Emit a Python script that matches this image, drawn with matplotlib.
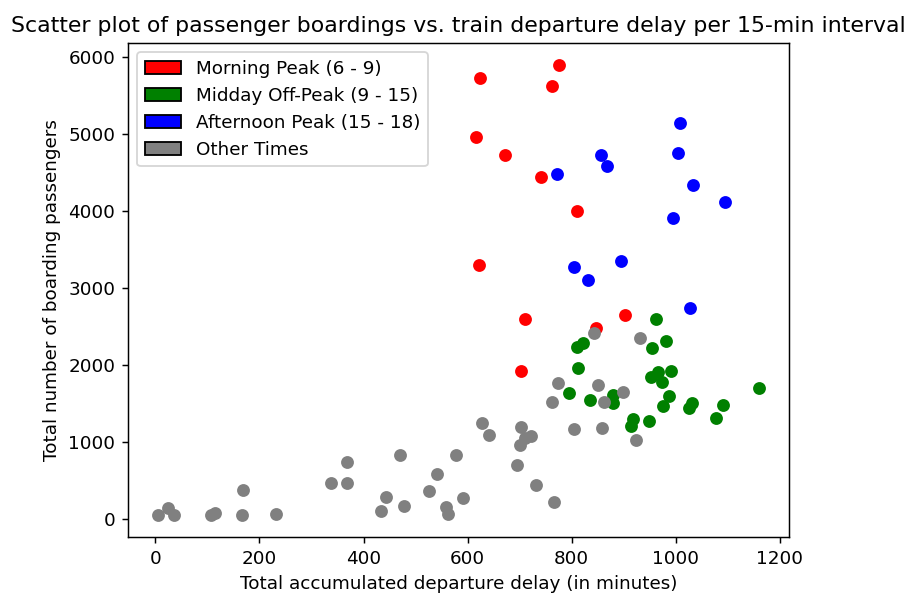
import matplotlib
matplotlib.use("Agg")
import matplotlib.pyplot as plt
from matplotlib.patches import Patch

# delay (minutes) and boardings per 15-min interval, grouped by time of day
morning_delay = [624, 776, 762, 616, 672, 742, 810, 621, 710, 902, 847, 702]
morning_board = [5716, 5885, 5622, 4959, 4725, 4440, 3998, 3300, 2595, 2650, 2478, 1915]

midday_delay = [962, 982, 954, 821, 811, 813, 991, 966, 952, 973, 1160, 795,
                879, 880, 835, 987, 975, 1031, 1026, 1090, 1077, 917, 915, 948]
midday_board = [2591, 2313, 2218, 2279, 2227, 1954, 1923, 1910, 1837, 1772, 1694, 1637,
                1611, 1503, 1546, 1594, 1460, 1507, 1438, 1473, 1312, 1299, 1204, 1265]

afternoon_delay = [1009, 1004, 856, 867, 771, 1034, 1094, 994, 894, 804, 831, 1028]
afternoon_board = [5141, 4751, 4721, 4586, 4478, 4339, 4115, 3903, 3348, 3274, 3105, 2734]

other_delay = [843, 931, 773, 850, 899, 863, 762, 627, 642, 702, 721, 710, 700, 804,
               858, 923, 577, 694, 731, 591, 766,
               5, 25, 36, 106, 115, 169, 167, 231, 337, 369, 369, 470, 444, 433,
               477, 542, 526, 558, 563]
other_board = [2409, 2348, 1759, 1741, 1650, 1520, 1512, 1239, 1091, 1187, 1074, 1052, 954, 1165,
               1182, 1022, 824, 694, 438, 269, 226,
               57, 143, 57, 57, 74, 382, 57, 65, 468, 733, 468, 824, 282, 100,
               174, 577, 360, 152, 65]

labels = ["Morning Peak (6 - 9)", "Midday Off-Peak (9 - 15)",
          "Afternoon Peak (15 - 18)", "Other Times"]
colors = ["red", "green", "blue", "gray"]

dpi = 132
fig = plt.figure(figsize=(911/dpi, 594/dpi), dpi=dpi)
ax = fig.add_subplot(111)
fig.subplots_adjust(left=128/911, right=789/911, top=1-43/594, bottom=1-537/594)

ax.scatter(morning_delay, morning_board, c=colors[0])
ax.scatter(midday_delay, midday_board, c=colors[1])
ax.scatter(afternoon_delay, afternoon_board, c=colors[2])
ax.scatter(other_delay, other_board, c=colors[3])

handles = [Patch(facecolor=c, edgecolor="black", label=l) for c, l in zip(colors, labels)]
ax.legend(handles=handles, loc="upper left")

ax.set_title("Scatter plot of passenger boardings vs. train departure delay per 15-min interval")
ax.set_xlabel("Total accumulated departure delay (in minutes)")
ax.set_ylabel("Total number of boarding passengers")

fig.savefig("out.png", dpi=dpi)
